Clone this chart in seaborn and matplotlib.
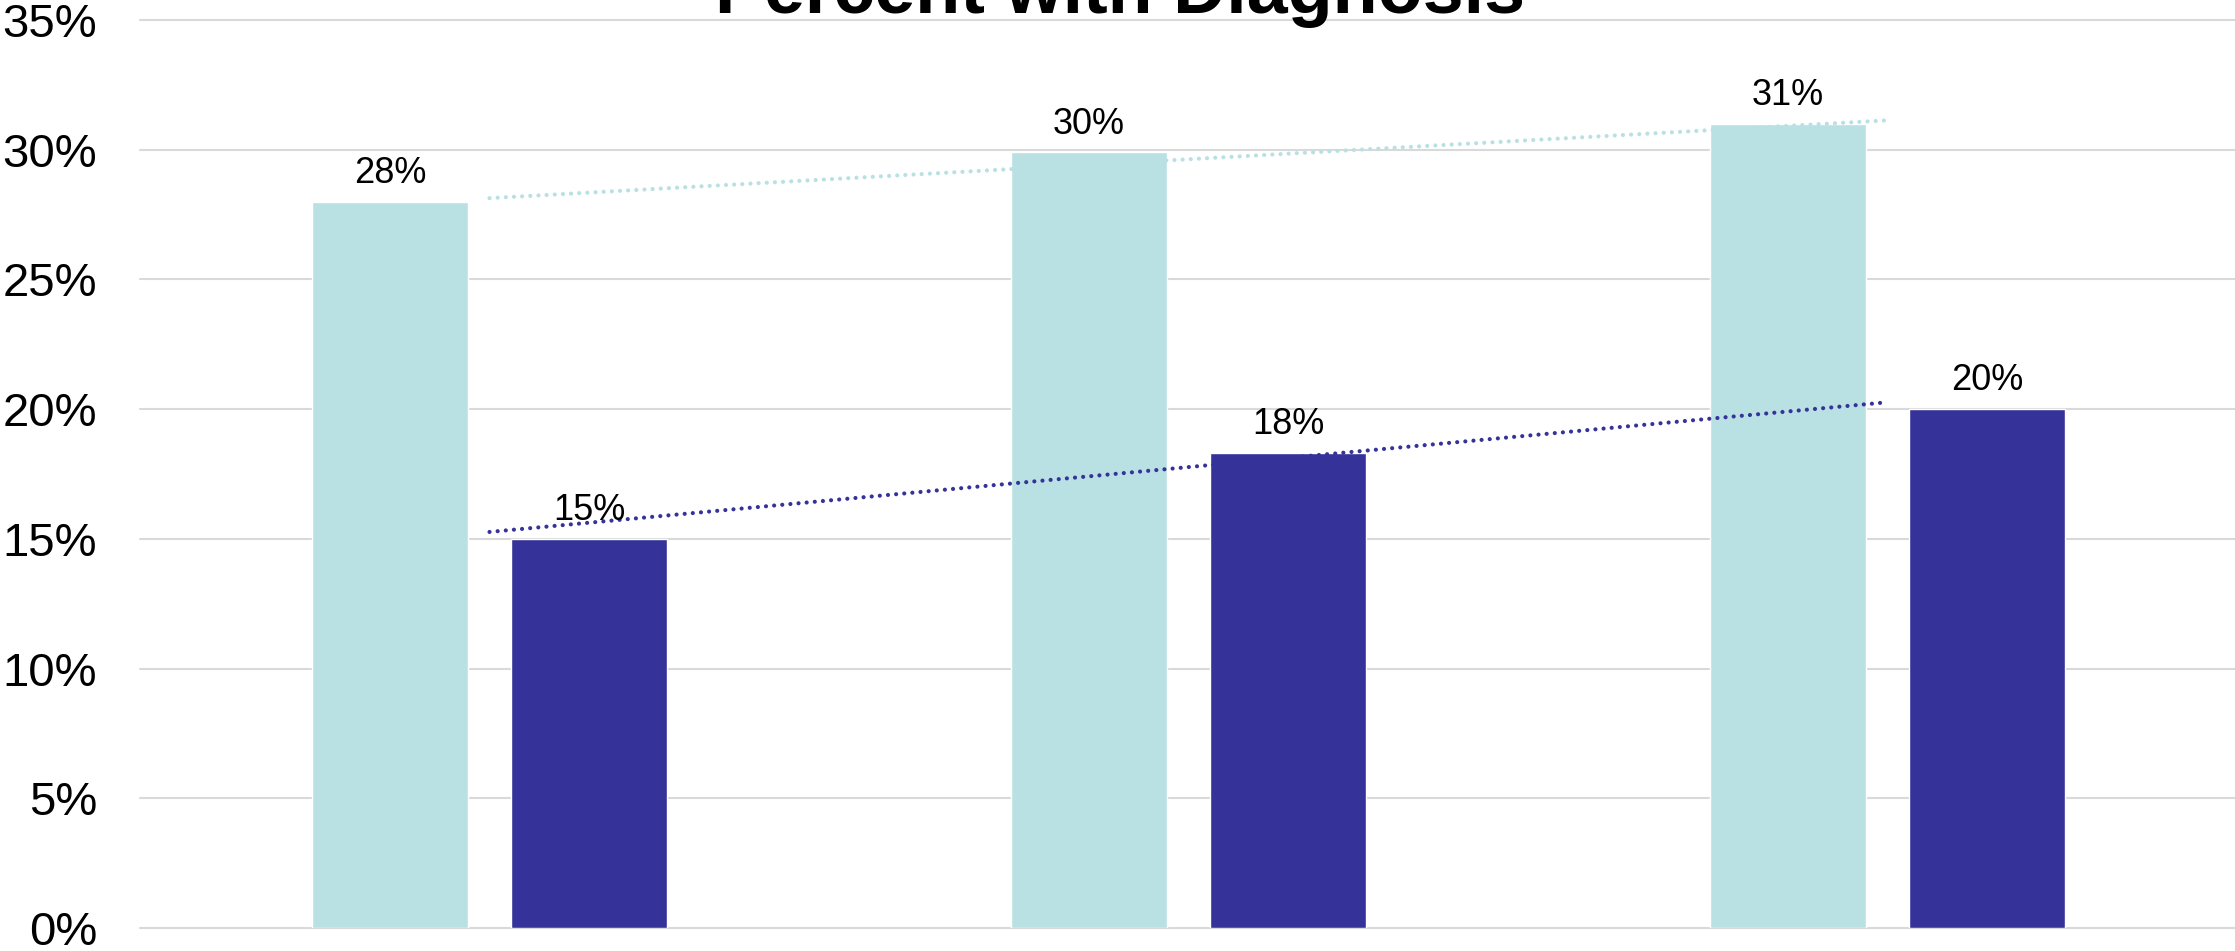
import numpy as np
import pandas as pd
import matplotlib
matplotlib.use("Agg")
import matplotlib.pyplot as plt
import seaborn as sns
from matplotlib.ticker import PercentFormatter, FixedLocator

# Share of each group with a diagnosis, per period
periods = ["Period 1", "Period 2", "Period 3"]
groups = ["Group A", "Group B"]
group_a_pct = [0.280, 0.299, 0.310]
group_b_pct = [0.150, 0.183, 0.200]
y_ticks = [0.00, 0.05, 0.10, 0.15, 0.20, 0.25, 0.30, 0.35]
colors = {"Group A": "#B9E0E3", "Group B": "#353399"}
title = "Percent with Diagnosis"

df = pd.DataFrame({
    "period": periods * 2,
    "group": [groups[0]] * len(periods) + [groups[1]] * len(periods),
    "pct": group_a_pct + group_b_pct,
})

sns.set_theme(style="white")
plt.rcParams["font.family"] = ["Liberation Sans", "DejaVu Sans"]

W, H = 2235, 951
fig = plt.figure(figsize=(W / 100, H / 100), dpi=100)
ax = fig.add_axes([140 / W, 23 / H, 2097 / W, 908 / H])

sns.barplot(data=df, x="period", y="pct", hue="group", palette=colors,
            hue_order=groups, order=periods, width=0.57, gap=0.22,
            saturation=1, errorbar=None, legend=False, ax=ax, zorder=2)

# value labels above each bar
for container, vals in zip(ax.containers, [group_a_pct, group_b_pct]):
    for bar, v in zip(container, vals):
        ax.annotate(f"{v:.0%}", (bar.get_x() + bar.get_width() / 2, v),
                    xytext=(0, 13.5), textcoords="offset points",
                    ha="center", va="baseline", fontsize=26, color="black",
                    zorder=6)

# linear trendlines through the category centres, drawn as round dots
x = np.arange(len(periods))
for vals, g in zip([group_a_pct, group_b_pct], groups):
    coef = np.polyfit(x, vals, 1)
    line, = ax.plot(x, np.polyval(coef, x), linewidth=3.0,
                    color=colors[g], zorder=5)
    line.set_dashes((0.01, 1.95))
    line.set_dash_capstyle("round")

ax.set_ylim(0, 0.35)
ax.set_xlim(-0.5, len(periods) - 0.5)
ax.yaxis.set_major_locator(FixedLocator(y_ticks))
ax.yaxis.set_major_formatter(PercentFormatter(1, decimals=0))
ax.yaxis.grid(True, color="#D9D9D9", linewidth=1.5)
for gl in ax.get_ygridlines():
    gl.set_clip_on(False)
ax.set_axisbelow(True)
ax.tick_params(axis="y", length=0, pad=31, labelsize=34, labelcolor="black")
ax.tick_params(axis="x", length=0, labelbottom=False)
ax.set_xlabel("")
ax.set_ylabel("")
for s in ax.spines.values():
    s.set_visible(False)

fig.text(0.501, 1 - 13 / H, title, ha="center", va="baseline",
         fontsize=53, fontweight="bold", color="black")

fig.savefig("out.png", dpi=100, facecolor="white")
